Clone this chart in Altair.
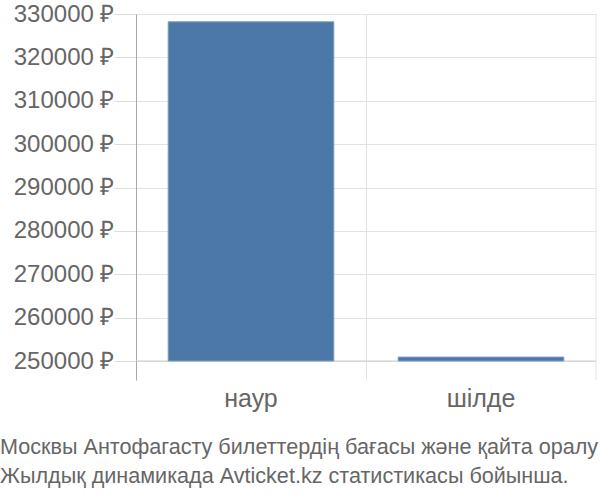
import altair as alt
import pandas as pd

# Average ticket price by month
months = ["наур", "шілде"]
prices = [328200, 250900]
base_price = 250000
y_ticks = [250000, 260000, 270000, 280000, 290000, 300000, 310000, 320000, 330000]
title_lines = [
    "Москвы Антофагасту билеттердің бағасы және қайта оралу",
    "Жылдық динамикада Avticket.kz статистикасы бойынша.",
]

FONT = "Liberation Sans"
TEXT = "#666666"
GRID = "#e3e3e3"
W, H = 460, 366

df = pd.DataFrame({"month": months, "price": prices, "base": [base_price] * len(months)})
base_df = pd.DataFrame({"base": [base_price]})

y_scale = alt.Scale(domain=[245620, 330000], nice=False, zero=False)

bars = alt.Chart(df).mark_bar(
    color="#4c78a8", stroke="#7c9bc5", strokeWidth=1,
    width=alt.RelativeBandSize(0.72),
).encode(
    x=alt.X(
        "month:N",
        sort=months,
        scale=alt.Scale(paddingInner=0, paddingOuter=0),
        axis=alt.Axis(
            title=None, bandPosition=0, grid=True, gridColor=GRID, domain=False,
            ticks=False, labelAngle=0, labelFontSize=25, labelColor=TEXT,
            labelFont=FONT, labelPadding=6,
        ),
    ),
    y=alt.Y(
        "price:Q",
        scale=y_scale,
        axis=alt.Axis(
            title=None, values=y_ticks, labelExpr="format(datum.value, 'd') + ' ₽'",
            tickSize=22, tickColor="#dddddd", domainColor="#aaaaaa", gridColor=GRID,
            labelFontSize=24, labelColor=TEXT, labelFont=FONT, labelPadding=0,
        ),
    ),
    y2="base:Q",
)

baseline = alt.Chart(base_df).mark_rule(color="#cccccc", strokeWidth=1).encode(
    y=alt.Y("base:Q", scale=y_scale)
)

right_edge = alt.Chart(base_df).mark_rule(color=GRID).encode(
    x=alt.value(W), y=alt.value(0), y2=alt.value(H)
)

chart = alt.layer(baseline, right_edge, bars).properties(
    width=W,
    height=H,
    padding={"left": 136, "top": 14, "right": 4, "bottom": 120},
    autosize=alt.AutoSizeParams(type="none"),
    title=alt.TitleParams(
        text=title_lines, orient="bottom", anchor="start", frame="group",
        dx=-136, offset=26, fontSize=21.6, font=FONT, color=TEXT,
        fontWeight="normal", lineHeight=29,
    ),
).configure_view(stroke=None)

chart.save("out.html", embed_options={"renderer": "svg", "actions": False})
